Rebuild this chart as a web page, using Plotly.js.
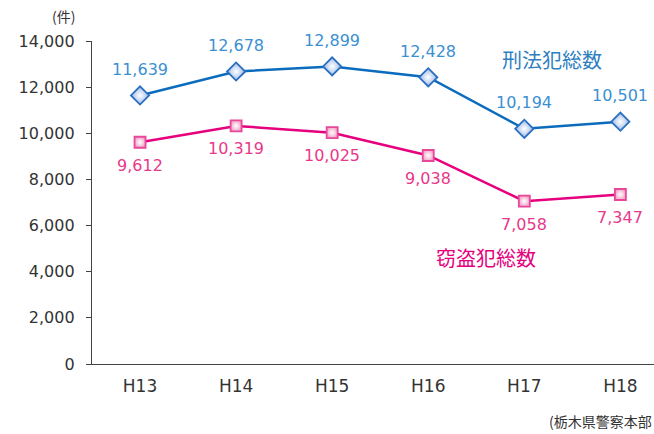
<!DOCTYPE html>
<html><head><meta charset="utf-8">
<script src="https://cdn.plot.ly/plotly-3.0.1.min.js"></script>
<style>html,body{margin:0;padding:0;background:#fff}#c{width:654px;height:434px}</style>
</head><body><div id="c"></div>
<script>
const years = ["H13","H14","H15","H16","H17","H18"];
const totalCrimes = [11639, 12678, 12899, 12428, 10194, 10501];
const theftCrimes = [9612, 10319, 10025, 9038, 7058, 7347];
const totalName = "刑法犯総数";
const theftName = "窃盗犯総数";
const yTicks = [0,2000,4000,6000,8000,10000,12000,14000];

const NF = "'DejaVu Sans', sans-serif";
const JF = "'Noto Sans CJK JP', sans-serif";
const fmt = v => v.toLocaleString('en-US');

const traces = [
  {x: years, y: totalCrimes, type:'scatter', mode:'lines+markers',
   line:{color:'#0b6bbd', width:2.5},
   marker:{symbol:'diamond', size:14, color:'#9db8e8', gradient:{type:'radial', color:'#ffffff'},
           line:{color:'#2a6fc0', width:1.8}},
   cliponaxis:false, hoverinfo:'none'},
  {x: years, y: theftCrimes, type:'scatter', mode:'lines+markers',
   line:{color:'#e6007e', width:2.5},
   marker:{symbol:'square', size:11, color:'#f3a6c9', gradient:{type:'radial', color:'#ffffff'},
           line:{color:'#e8479a', width:1.8}},
   cliponaxis:false, hoverinfo:'none'}
];

const labelAnn = [];
years.forEach((yr, i) => {
  labelAnn.push({xref:'x', yref:'y', x:yr, y:totalCrimes[i], text:fmt(totalCrimes[i]),
    showarrow:false, yshift:26, font:{family:NF, size:16, color:'#3b90d2'}});
  labelAnn.push({xref:'x', yref:'y', x:yr, y:theftCrimes[i], text:fmt(theftCrimes[i]),
    showarrow:false, yshift:-23, font:{family:NF, size:16, color:'#e8388a'}});
});

const layout = {
  width:654, height:434,
  margin:{l:92, r:0, t:41, b:70},
  paper_bgcolor:'#fff', plot_bgcolor:'#fff',
  showlegend:false,
  font:{family:NF, color:'#333'},
  xaxis:{type:'category', range:[-0.5, 5.35], showgrid:false, zeroline:false,
    showline:true, linecolor:'#444', linewidth:1.2, ticks:'', ticklabelstandoff:6,
    tickfont:{family:NF, size:17, color:'#333'}, fixedrange:true},
  yaxis:{range:[0,14000], tickvals:yTicks, ticktext:yTicks.map(fmt),
    showgrid:false, zeroline:false, showline:true, linecolor:'#444', linewidth:1.2,
    ticks:'outside', ticklen:5, tickcolor:'#444', ticklabelstandoff:8,
    tickfont:{family:NF, size:16, color:'#333'}, fixedrange:true},
  annotations: labelAnn.concat([
    {xref:'paper', yref:'paper', x:-0.0516, y:1.078, text:'(件)', showarrow:false,
     font:{family:JF, size:14, color:'#333'}, xanchor:'center', yanchor:'middle'},
    {xref:'x', yref:'y', x:3.75, y:13180, text:totalName, showarrow:false,
     font:{family:JF, size:20, color:'#2f7fc1'}, xanchor:'left', yanchor:'middle'},
    {xref:'x', yref:'y', x:3.06, y:4595, text:theftName, showarrow:false,
     font:{family:JF, size:20, color:'#e6007e'}, xanchor:'left', yanchor:'middle'},
    {xref:'paper', yref:'paper', x:1.0, y:-0.176, text:'(栃木県警察本部', showarrow:false,
     font:{family:JF, size:14, color:'#333'}, xanchor:'right', yanchor:'middle'}
  ])
};
Plotly.newPlot('c', traces, layout, {staticPlot:true, displayModeBar:false});
</script></body></html>
